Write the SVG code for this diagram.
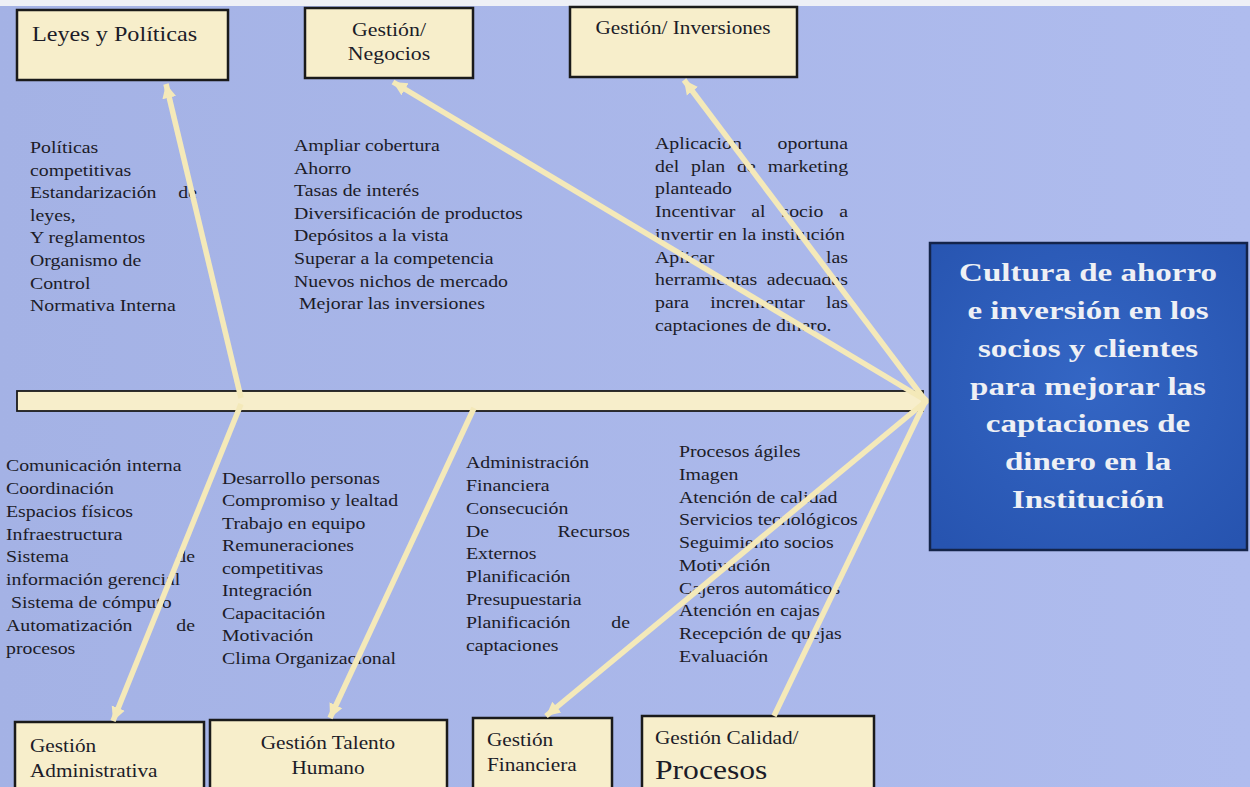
<svg xmlns="http://www.w3.org/2000/svg" width="1250" height="787" viewBox="0 0 1250 787">
<defs>
<style>
.bg{fill:#a8b6e8}
.box{fill:#f7eecb;stroke:#1a1a1a;stroke-width:2.5}
.head{fill:#2d5fbf;stroke:#14244a;stroke-width:2.5}
.t{font-family:"Liberation Serif","Times New Roman",serif;fill:#1c1c28}
.b{font-size:16.8px}
.bx{font-size:18.5px}
.ht{font-family:"Liberation Serif","Times New Roman",serif;font-weight:bold;font-size:26px;fill:#eef0f5;text-anchor:middle}
.e{text-anchor:end}
.m{text-anchor:middle}
.con{stroke:#f4e9b9;stroke-width:5.5;fill:none}
</style>
<marker id="ah" markerUnits="userSpaceOnUse" markerWidth="16" markerHeight="16" refX="14" refY="8" orient="auto">
<path d="M0,1 L14,8 L0,15 Z" fill="#f4e9b9"/>
</marker>
<linearGradient id="bgg" x1="0" y1="0" x2="1" y2="0">
<stop offset="0" stop-color="#a4b2e5"/>
<stop offset="1" stop-color="#afbcee"/>
</linearGradient>
<radialGradient id="hg" cx="0.5" cy="0.45" r="0.7">
<stop offset="0" stop-color="#3466c4"/>
<stop offset="1" stop-color="#2754b0"/>
</radialGradient>
</defs>
<rect x="0" y="0" width="1250" height="787" fill="url(#bgg)"/>
<rect x="0" y="0" width="1250" height="6" fill="#eef0f6"/>

<g id="spine">
<rect x="17" y="391" width="906" height="20" class="box" style="stroke-width:1.8"/>
<path d="M921,392 L931,401 L921,410 Z" fill="#f4e9b9"/>
</g>

<g id="node-leyes">
<rect x="17" y="10" width="211" height="70" class="box"/>
<text class="t" font-size="20.5" transform="translate(32,41) scale(1.18,1)">Leyes y Políticas</text>
</g>
<g id="node-negocios">
<rect x="305" y="8" width="168" height="70" class="box"/>
<g transform="translate(389,0) scale(1.18,1)">
<text class="t bx m" x="0" y="36">Gestión/</text>
<text class="t bx m" x="0" y="60">Negocios</text>
</g>
</g>
<g id="node-inversiones">
<rect x="570" y="7" width="227" height="70" class="box"/>
<text class="t m" font-size="18" transform="translate(683,34) scale(1.18,1)">Gestión/ Inversiones</text>
</g>

<g id="node-head">
<rect x="930" y="243" width="317" height="307" class="head" style="fill:url(#hg)"/>
<g transform="translate(1088,0) scale(1.27,1)">
<text class="ht" x="0" y="281">Cultura  de ahorro</text>
<text class="ht" x="0" y="319">e inversión en los</text>
<text class="ht" x="0" y="357">socios y clientes</text>
<text class="ht" x="0" y="395">para mejorar las</text>
<text class="ht" x="0" y="432">captaciones de</text>
<text class="ht" x="0" y="470">dinero en la</text>
<text class="ht" x="0" y="508">Institución</text>
</g>
</g>

<g id="node-administrativa">
<rect x="15" y="722" width="189" height="70" class="box"/>
<g transform="translate(30,0) scale(1.15,1)">
<text class="t bx" x="0" y="752">Gestión</text>
<text class="t bx" x="0" y="777">Administrativa</text>
</g>
</g>
<g id="node-talento">
<rect x="210" y="720" width="237" height="72" class="box"/>
<g transform="translate(328,0) scale(1.15,1)">
<text class="t bx m" x="0" y="749">Gestión Talento</text>
<text class="t bx m" x="0" y="774">Humano</text>
</g>
</g>
<g id="node-financiera">
<rect x="473" y="718" width="139" height="74" class="box"/>
<g transform="translate(487,0) scale(1.15,1)">
<text class="t bx" x="0" y="746">Gestión</text>
<text class="t bx" x="0" y="771">Financiera</text>
</g>
</g>
<g id="node-calidad">
<rect x="642" y="716" width="232" height="76" class="box"/>
<g transform="translate(655,0) scale(1.15,1)">
<text class="t bx" x="0" y="744">Gestión Calidad/</text>
<text class="t" font-size="27.5" x="0" y="779">Procesos</text>
</g>
</g>

<g id="causes-leyes" transform="translate(30,0) scale(1.18,1)">
<text class="t b" x="0" y="153">Políticas</text>
<text class="t b" x="0" y="175.6">competitivas</text>
<text class="t b" x="0" y="198.2">Estandarización</text>
<text class="t b e" x="141.5" y="198.2">de</text>
<text class="t b" x="0" y="220.8">leyes,</text>
<text class="t b" x="0" y="243.4">Y reglamentos</text>
<text class="t b" x="0" y="266">Organismo de</text>
<text class="t b" x="0" y="288.6">Control</text>
<text class="t b" x="0" y="311.2">Normativa Interna</text>
</g>

<g id="causes-negocios" transform="translate(294,0) scale(1.18,1)">
<text class="t b" x="0" y="151">Ampliar cobertura</text>
<text class="t b" x="0" y="173.6">Ahorro</text>
<text class="t b" x="0" y="196.2">Tasas de interés</text>
<text class="t b" x="0" y="218.8">Diversificación de productos</text>
<text class="t b" x="0" y="241.4">Depósitos a la vista</text>
<text class="t b" x="0" y="264">Superar a la competencia</text>
<text class="t b" x="0" y="286.6">Nuevos nichos de mercado</text>
<text class="t b" x="4.2" y="309.2">Mejorar las inversiones</text>
</g>

<g id="causes-inversiones" transform="translate(655,0) scale(1.18,1)">
<text class="t b" x="0" y="149">Aplicación</text>
<text class="t b e" x="163.6" y="149">oportuna</text>
<text class="t b" x="0" y="171.8">del</text>
<text class="t b" x="30.6" y="171.8">plan</text>
<text class="t b" x="69.5" y="171.8">de</text>
<text class="t b e" x="163.6" y="171.8">marketing</text>
<text class="t b" x="0" y="194.5">planteado</text>
<text class="t b" x="0" y="217.3">Incentivar</text>
<text class="t b" x="81.6" y="217.3">al</text>
<text class="t b" x="107.2" y="217.3">socio</text>
<text class="t b e" x="163.6" y="217.3">a</text>
<text class="t b" x="0" y="240">invertir en la institución</text>
<text class="t b" x="0" y="262.8">Aplicar</text>
<text class="t b e" x="163.6" y="262.8">las</text>
<text class="t b" x="0" y="285.5">herramientas</text>
<text class="t b e" x="163.6" y="285.5">adecuadas</text>
<text class="t b" x="0" y="308.3">para</text>
<text class="t b" x="46.8" y="308.3">incrementar</text>
<text class="t b e" x="163.6" y="308.3">las</text>
<text class="t b" x="0" y="331">captaciones de dinero.</text>
</g>

<g id="causes-administrativa" transform="translate(6,0) scale(1.18,1)">
<text class="t b" x="0" y="471">Comunicación interna</text>
<text class="t b" x="0" y="493.9">Coordinación</text>
<text class="t b" x="0" y="516.8">Espacios físicos</text>
<text class="t b" x="0" y="539.6">Infraestructura</text>
<text class="t b" x="0" y="562.5">Sistema</text>
<text class="t b e" x="160.2" y="562.5">de</text>
<text class="t b" x="0" y="585.4">información gerencial</text>
<text class="t b" x="4.2" y="608.3">Sistema de cómputo</text>
<text class="t b" x="0" y="631.1">Automatización</text>
<text class="t b e" x="160.2" y="631.1">de</text>
<text class="t b" x="0" y="654">procesos</text>
</g>

<g id="causes-talento" transform="translate(222,0) scale(1.18,1)">
<text class="t b" x="0" y="484">Desarrollo personas</text>
<text class="t b" x="0" y="506.5">Compromiso y lealtad</text>
<text class="t b" x="0" y="529">Trabajo en equipo</text>
<text class="t b" x="0" y="551.5">Remuneraciones</text>
<text class="t b" x="0" y="574">competitivas</text>
<text class="t b" x="0" y="596.5">Integración</text>
<text class="t b" x="0" y="619">Capacitación</text>
<text class="t b" x="0" y="641.5">Motivación</text>
<text class="t b" x="0" y="664">Clima Organizacional</text>
</g>

<g id="causes-financiera" transform="translate(466,0) scale(1.18,1)">
<text class="t b" x="0" y="468">Administración</text>
<text class="t b" x="0" y="490.9">Financiera</text>
<text class="t b" x="0" y="513.8">Consecución</text>
<text class="t b" x="0" y="536.6">De</text>
<text class="t b e" x="139" y="536.6">Recursos</text>
<text class="t b" x="0" y="559.5">Externos</text>
<text class="t b" x="0" y="582.4">Planificación</text>
<text class="t b" x="0" y="605.3">Presupuestaria</text>
<text class="t b" x="0" y="628.1">Planificación</text>
<text class="t b e" x="139" y="628.1">de</text>
<text class="t b" x="0" y="651">captaciones</text>
</g>

<g id="causes-calidad" transform="translate(679,0) scale(1.18,1)">
<text class="t b" x="0" y="457">Procesos ágiles</text>
<text class="t b" x="0" y="479.8">Imagen</text>
<text class="t b" x="0" y="502.6">Atención de calidad</text>
<text class="t b" x="0" y="525.3">Servicios tecnológicos</text>
<text class="t b" x="0" y="548.1">Seguimiento socios</text>
<text class="t b" x="0" y="570.9">Motivación</text>
<text class="t b" x="0" y="593.7">Cajeros automáticos</text>
<text class="t b" x="0" y="616.4">Atención en cajas</text>
<text class="t b" x="0" y="639.2">Recepción de quejas</text>
<text class="t b" x="0" y="662">Evaluación</text>
</g>

<g id="connectors">
<path class="con" d="M241,398 L166,84" marker-end="url(#ah)"/>
<path class="con" d="M925,400 L393,82" marker-end="url(#ah)"/>
<path class="con" d="M925,400 L684,80" marker-end="url(#ah)"/>
<path class="con" d="M241,404 L113,721" marker-end="url(#ah)"/>
<path class="con" d="M474,408 L330,718" marker-end="url(#ah)"/>
<path class="con" d="M925,402 L546,716" marker-end="url(#ah)"/>
<path class="con" d="M925,402 L774,716"/>
</g>
</svg>
